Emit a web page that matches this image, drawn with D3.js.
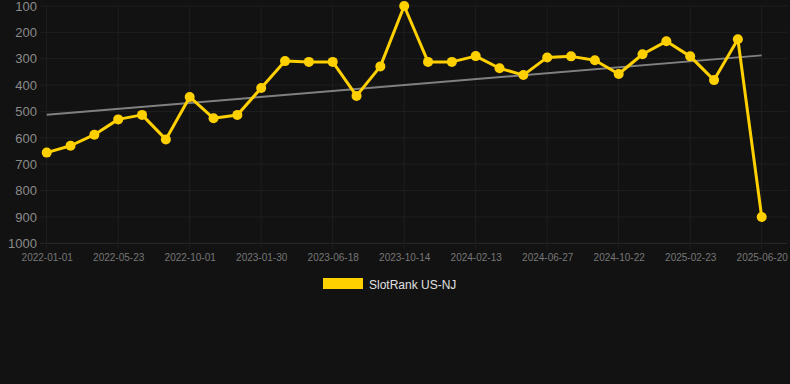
<!DOCTYPE html>
<html>
<head>
<meta charset="utf-8">
<script src="https://cdn.jsdelivr.net/npm/d3@7/dist/d3.min.js"></script>
<style>
html,body{margin:0;padding:0;background:#121212;}
svg{display:block;}
</style>
</head>
<body>
<script>
// Categories (dates); only every 3rd is shown as a tick label
const dates = [
  "2022-01-01","2022-02-17","2022-04-05","2022-05-23","2022-07-05","2022-08-18",
  "2022-10-01","2022-11-10","2022-12-20","2023-01-30","2023-03-18","2023-05-03",
  "2023-06-18","2023-07-27","2023-09-04","2023-10-14","2023-11-24","2024-01-03",
  "2024-02-13","2024-03-28","2024-05-13","2024-06-27","2024-08-08","2024-09-15",
  "2024-10-22","2024-12-03","2025-01-13","2025-02-23","2025-04-05","2025-05-13",
  "2025-06-20"
];
const tickLabels = ["2022-01-01","2022-05-23","2022-10-01","2023-01-30","2023-06-18",
  "2023-10-14","2024-02-13","2024-06-27","2024-10-22","2025-02-23","2025-06-20"];
const rankValues = [656,630,588,530,513,606,445,526,513,411,
  309,312,312,441,329,100,312,312,290,336,
  362,295,291,306,358,283,234,291,381,226,900];
const yTicks = [100,200,300,400,500,600,700,800,900,1000];
const seriesName = "SlotRank US-NJ";

const W = 790, H = 384;
const svg = d3.select("body").append("svg").attr("width", W).attr("height", H)
  .style("background", "#121212");

const x = d3.scalePoint().domain(dates).range([46.7, 761.7]);
const y = d3.scaleLinear().domain([100, 1000]).range([6, 243.3]);

// grid
const g = svg.append("g");
g.selectAll("line.h").data(yTicks).join("line")
  .attr("x1", 40).attr("x2", 787)
  .attr("y1", d => y(d)).attr("y2", d => y(d))
  .attr("stroke", d => d === 1000 ? "#2a2a2a" : "#1f1f1f").attr("stroke-width", 1);
g.selectAll("line.v").data(tickLabels).join("line")
  .attr("x1", d => x(d)).attr("x2", d => x(d))
  .attr("y1", 6).attr("y2", 249)
  .attr("stroke", "#1f1f1f").attr("stroke-width", 1);

// y axis labels
const yAxis = d3.axisLeft(y).tickValues(yTicks).tickFormat(d3.format("d")).tickSize(0).tickPadding(0);
const ya = svg.append("g").attr("transform", "translate(37,0)").call(yAxis);
ya.select(".domain").remove();
ya.selectAll("text").attr("fill", "#8a8a8a").style("font-family", "Arial, 'Liberation Sans', sans-serif")
  .style("font-size", "13px");

// x axis labels
const xAxis = d3.axisBottom(x).tickValues(tickLabels).tickSize(0).tickPadding(0);
const xa = svg.append("g").attr("transform", "translate(0,254)").call(xAxis);
xa.select(".domain").remove();
xa.selectAll("text").attr("fill", "#777").style("font-family", "Arial, 'Liberation Sans', sans-serif")
  .style("font-size", "10px");

// trend line (least squares)
const n = rankValues.length;
const mx = d3.mean(d3.range(n)), my = d3.mean(rankValues);
let sxy = 0, sxx = 0;
rankValues.forEach((v, i) => { sxy += (i - mx) * (v - my); sxx += (i - mx) * (i - mx); });
const slope = sxy / sxx, icpt = my - slope * mx;
svg.append("line")
  .attr("x1", x(dates[0])).attr("y1", y(icpt))
  .attr("x2", x(dates[n - 1])).attr("y2", y(icpt + slope * (n - 1)))
  .attr("stroke", "#808080").attr("stroke-width", 2);

// series line
const line = d3.line().x((d, i) => x(dates[i])).y(d => y(d));
svg.append("path").datum(rankValues).attr("d", line)
  .attr("fill", "none").attr("stroke", "#FFD000").attr("stroke-width", 3)
  .attr("stroke-linejoin", "round");
svg.selectAll("circle.pt").data(rankValues).join("circle")
  .attr("cx", (d, i) => x(dates[i])).attr("cy", d => y(d)).attr("r", 5)
  .attr("fill", "#FFD000");

// legend
svg.append("rect").attr("x", 323).attr("y", 278).attr("width", 40).attr("height", 11)
  .attr("fill", "#FFD000");
svg.append("text").attr("x", 369).attr("y", 288.5).text(seriesName)
  .attr("fill", "#e0e0e0").style("font-family", "Arial, 'Liberation Sans', sans-serif")
  .style("font-size", "12px");
</script>
</body>
</html>
